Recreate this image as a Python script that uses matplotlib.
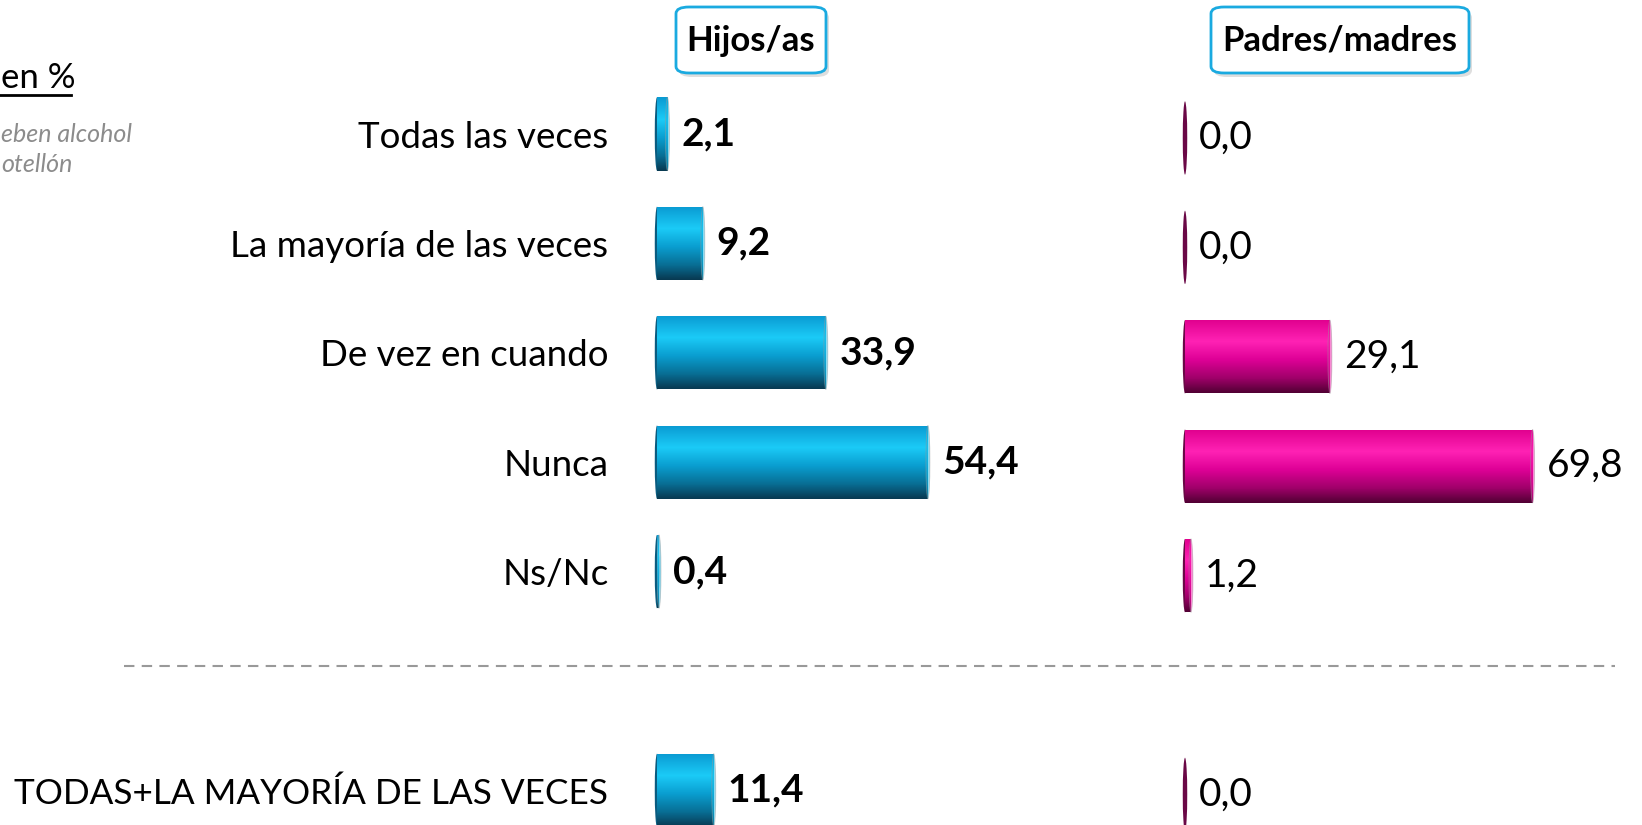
import numpy as np
import matplotlib.pyplot as plt
from matplotlib.colors import LinearSegmentedColormap
from matplotlib.patches import Ellipse, FancyBboxPatch
from matplotlib.lines import Line2D

plt.rcParams['font.family'] = ['Lato', 'DejaVu Sans']

# data
categories = ['Todas las veces', 'La mayoría de las veces', 'De vez en cuando',
              'Nunca', 'Ns/Nc', 'TODAS+LA MAYORÍA DE LAS VECES']
hijos = [2.1, 9.2, 33.9, 54.4, 0.4, 11.4]
padres = [0.0, 0.0, 29.1, 69.8, 1.2, 0.0]
groups = ['Hijos/as', 'Padres/madres']

W, H = 1642, 825
fig = plt.figure(figsize=(W / 100, H / 100), dpi=100)
fig.patch.set_facecolor('white')

ypos = [0, 1, 2, 3, 4, 6]
row = 109.4      # px per row
bar_h = 0.67

blue = LinearSegmentedColormap.from_list('b', [(0, '#0A9AD2'), (0.3, '#1BCBF7'),
                                              (0.55, '#0A9ED0'), (0.8, '#086E94'), (1, '#083A52')])
pink = LinearSegmentedColormap.from_list('p', [(0, '#E0008E'), (0.3, '#FF22B4'),
                                              (0.55, '#DE0096'), (0.8, '#A0006A'), (1, '#520034')])


def fx(px):
    return px / W


def make_axes(x0, x1, top_px):
    ax = fig.add_axes([fx(x0), 0, fx(x1 - x0), 1])
    ax.set_xlim(0, (x1 - x0) / 4.98)
    ax.set_ylim((H - top_px) / row, -top_px / row)
    ax.axis('off')
    return ax


def draw_bars(ax, vals, cmap, edge, bold):
    bars = ax.barh(ypos, vals, height=bar_h, color=cmap(0.5), edgecolor='none')
    grad = np.linspace(0, 1, 100).reshape(-1, 1)
    for b, y, v in zip(bars, ypos, vals):
        ax.add_patch(Ellipse((0, y), 0.9, bar_h, facecolor=edge, edgecolor='none',
                             clip_on=False, zorder=1))
        if v > 0:
            im = ax.imshow(grad, cmap=cmap, aspect='auto', zorder=2,
                           extent=(0, v, y + bar_h / 2, y - bar_h / 2), origin='upper')
            im.set_clip_path(b)
            ax.add_patch(Ellipse((v, y), 0.8, bar_h, facecolor=cmap(0.4), edgecolor='#9a9a9a',
                                 lw=0.6, alpha=0.5, zorder=3))
        ax.annotate(f'{v:.1f}'.replace('.', ','), (v, y), xytext=(10, 0),
                    textcoords='offset points', va='center', ha='left',
                    fontsize=28, fontweight='bold' if bold else 'normal', color='black')


ax1 = make_axes(657, 1150, 134)
ax2 = make_axes(1185, 1642, 138)
draw_bars(ax1, hijos, blue, '#0A5C80', True)
draw_bars(ax2, padres, pink, '#6A0846', False)

ax1.axis('on')
for s in ax1.spines.values():
    s.set_visible(False)
ax1.set_xticks([])
ax1.set_yticks(ypos, categories)
ax1.tick_params(axis='y', length=0, pad=35, labelsize=26.5)
ax1.get_yticklabels()[-1].set_fontsize(25.3)
ax1.patch.set_alpha(0)

# header boxes
for label, (x0, x1) in zip(groups, [(676, 826), (1211, 1469)]):
    y0, y1 = 7, 73
    shadow = FancyBboxPatch((fx(x0 + 3), 1 - (y1 + 4) / H), fx(x1 - x0), (y1 - y0) / H,
                            boxstyle='round,pad=0,rounding_size=0.008',
                            transform=fig.transFigure, facecolor='#c8c8c8',
                            edgecolor='none', alpha=0.6)
    box = FancyBboxPatch((fx(x0), 1 - y1 / H), fx(x1 - x0), (y1 - y0) / H,
                         boxstyle='round,pad=0,rounding_size=0.008',
                         transform=fig.transFigure, facecolor='white',
                         edgecolor='#1AAAE0', lw=2)
    fig.patches.extend([shadow, box])
    fig.text(fx((x0 + x1) / 2), 1 - (y0 + y1 + 2) / 2 / H, label, ha='center', va='center',
             fontsize=25, fontweight='bold')

# dashed separator
fig.add_artist(Line2D([fx(124), fx(1615)], [1 - 666 / H] * 2, transform=fig.transFigure,
                      color='#999999', lw=1.5, ls=(0, (5, 3.5))))

# slide fragments at the left edge
fig.text(fx(1), 1 - 78 / H, 'en %', ha='left', va='center', fontsize=25)
fig.add_artist(Line2D([0, fx(71)], [1 - 95 / H] * 2, transform=fig.transFigure,
                      color='black', lw=2))
fig.text(fx(1), 1 - 134 / H, 'eben alcohol', ha='left', va='center', fontsize=18,
         style='italic', color='#8c8c8c')
fig.text(fx(1), 1 - 165 / H, 'otellón', ha='left', va='center', fontsize=18,
         style='italic', color='#8c8c8c')

fig.savefig('out.png', dpi=100)
